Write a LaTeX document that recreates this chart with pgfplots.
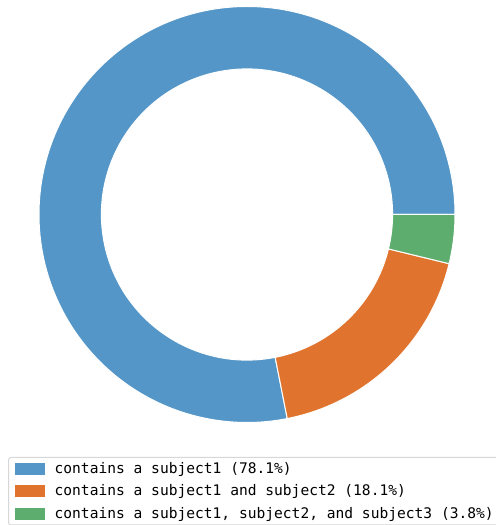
\documentclass[border=0pt]{standalone}
\usepackage{pgfplots}
\pgfplotsset{compat=1.18}
\usepackage{fontspec}
\newfontfamily\monofont{DejaVu Sans Mono}
\usetikzlibrary{calc}

\definecolor{cblue}{RGB}{84,150,199}
\definecolor{corange}{RGB}{224,116,46}
\definecolor{cgreen}{RGB}{93,173,111}
\definecolor{legendframe}{RGB}{215,215,215}

% shares in percent
\def\pA{78.1}
\def\pB{18.1}
\def\pC{3.8}

\begin{document}
\begin{tikzpicture}
\pgfmathsetmacro{\aA}{3.6*\pA}
\pgfmathsetmacro{\aB}{\aA+3.6*\pB}
\pgfmathsetmacro{\aC}{\aB+3.6*\pC}
\def\Ro{156pt}
\def\Ri{109.2pt}
\begin{axis}[
  x=0.75pt, y=0.75pt,
  xmin=0, xmax=496, ymin=0, ymax=525,
  scale only axis, hide axis, clip=false,
  legend image code/.code={\fill[#1, draw=none, sharp corners] (0pt,-4.5pt) rectangle (22.5pt,4.5pt);},
  legend cell align=left,
  legend style={
    at={(axis cs:8,68)}, anchor=north west,
    draw=legendframe, line width=0.75pt, rounded corners=2pt,
    inner xsep=4.5pt, inner ysep=0pt,
    column sep=7.6pt,
    nodes={inner sep=0pt, minimum height=16.875pt},
    font=\monofont\fontsize{10.94}{13}\selectfont,
  },
]
\addlegendimage{fill=cblue}
\addlegendentry{contains a subject1 (78.1\%)}
\addlegendimage{fill=corange}
\addlegendentry{contains a subject1 and subject2 (18.1\%)}
\addlegendimage{fill=cgreen}
\addlegendentry{contains a subject1, subject2, and subject3 (3.8\%)}

\fill[cblue, draw=white, line width=0.75pt]
  ($(axis cs:247,310.5)+(0:\Ro)$) arc[start angle=0, end angle=\aA, radius=\Ro]
  -- ($(axis cs:247,310.5)+(\aA:\Ri)$) arc[start angle=\aA, end angle=0, radius=\Ri] -- cycle;
\fill[corange, draw=white, line width=0.75pt]
  ($(axis cs:247,310.5)+(\aA:\Ro)$) arc[start angle=\aA, end angle=\aB, radius=\Ro]
  -- ($(axis cs:247,310.5)+(\aB:\Ri)$) arc[start angle=\aB, end angle=\aA, radius=\Ri] -- cycle;
\fill[cgreen, draw=white, line width=0.75pt]
  ($(axis cs:247,310.5)+(\aB:\Ro)$) arc[start angle=\aB, end angle=\aC, radius=\Ro]
  -- ($(axis cs:247,310.5)+(\aC:\Ri)$) arc[start angle=\aC, end angle=\aB, radius=\Ri] -- cycle;
\end{axis}
\pgfresetboundingbox
\path[use as bounding box] (0,0) rectangle (372pt,393.75pt);
\end{tikzpicture}
\end{document}
